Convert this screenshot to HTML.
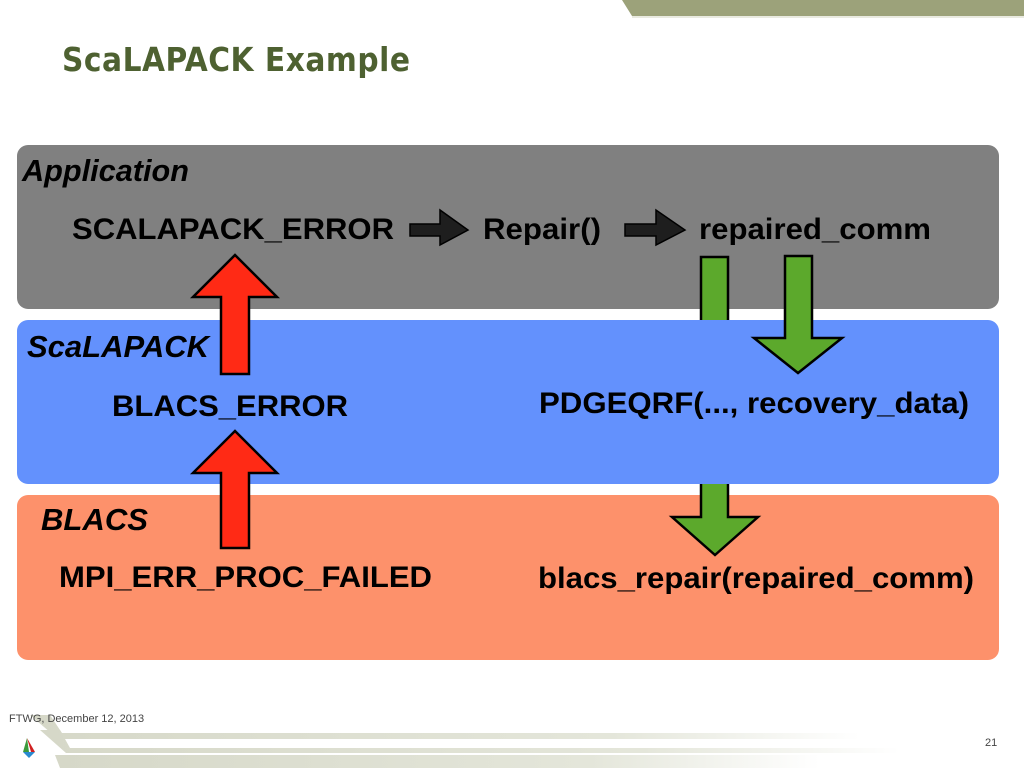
<!DOCTYPE html>
<html><head><meta charset="utf-8"><style>
html,body{margin:0;padding:0;background:#fff;}
svg{display:block;}
text{font-family:"Liberation Sans",Arial,sans-serif;font-weight:bold;fill:#000;}
</style></head><body>
<svg width="1024" height="768" viewBox="0 0 1024 768" xmlns="http://www.w3.org/2000/svg">
<defs>
<linearGradient id="fg" x1="0" x2="1"><stop offset="0" stop-color="#d6d8c8"/><stop offset="0.7" stop-color="#e4e6da"/><stop offset="1" stop-color="#ffffff"/></linearGradient>
</defs>
<polygon points="622,0 1024,0 1024,16 632,16" fill="#9ca27a"/>
<line x1="632" y1="17" x2="1024" y2="17" stroke="#e2e4d6" stroke-width="1.5"/>
<text x="62" y="71" font-size="33" fill="#4e6131" style="font-family:'DejaVu Sans Condensed','Liberation Sans Narrow','Liberation Sans',sans-serif;fill:#4e6131" textLength="348">ScaLAPACK Example</text>

<rect x="17" y="145" width="982" height="164" rx="11" fill="#808080"/>
<rect x="17" y="495" width="982" height="165" rx="11" fill="#fd916b"/>
<polygon points="701,257 728,257 728,517 758,517 715,555 672,517 701,517" fill="#5ca92c" stroke="#000" stroke-width="2.5"/>
<rect x="17" y="320" width="982" height="164" rx="11" fill="#6391fd"/>
<polygon points="785,256 812,256 812,338 842,338 798,373 754,338 785,338" fill="#5ca92c" stroke="#000" stroke-width="2.5"/>
<polygon points="235,255 277,297 249,297 249,374 221,374 221,297 193,297" fill="#ff2a15" stroke="#000" stroke-width="2.5"/>
<polygon points="235,431 277,473 249,473 249,548 221,548 221,473 193,473" fill="#ff2a15" stroke="#000" stroke-width="2.5"/>
<polygon points="410,224 440,224 440,210 468,230 440,245 440,236 410,236" fill="#1e1e1e" stroke="#000" stroke-width="1.5"/>
<polygon points="625,224 656,224 656,210 685,230 656,245 656,236 625,236" fill="#1e1e1e" stroke="#000" stroke-width="1.5"/>

<text x="22" y="181" font-size="31" font-style="italic" textLength="167" lengthAdjust="spacingAndGlyphs">Application</text>
<text x="27" y="357" font-size="31" font-style="italic" textLength="182" lengthAdjust="spacingAndGlyphs">ScaLAPACK</text>
<text x="41" y="530" font-size="31" font-style="italic" textLength="107" lengthAdjust="spacingAndGlyphs">BLACS</text>
<text x="72" y="239" font-size="30" textLength="322" lengthAdjust="spacingAndGlyphs">SCALAPACK_ERROR</text>
<text x="483" y="239" font-size="30" textLength="118" lengthAdjust="spacingAndGlyphs">Repair()</text>
<text x="699" y="239" font-size="30" textLength="232" lengthAdjust="spacingAndGlyphs">repaired_comm</text>
<text x="112" y="416" font-size="30" textLength="236" lengthAdjust="spacingAndGlyphs">BLACS_ERROR</text>
<text x="539" y="413" font-size="30" textLength="430" lengthAdjust="spacingAndGlyphs">PDGEQRF(..., recovery_data)</text>
<text x="59" y="587" font-size="30" textLength="373" lengthAdjust="spacingAndGlyphs">MPI_ERR_PROC_FAILED</text>
<text x="538" y="588" font-size="30" textLength="436" lengthAdjust="spacingAndGlyphs">blacs_repair(repaired_comm)</text>

<polygon points="30,715 50,715 62,733 860,733 860,739 58,739" fill="url(#fg)"/>
<polygon points="40,730 60,730 70,748 900,748 900,753 66,753" fill="url(#fg)"/>
<polygon points="55,755 820,755 820,768 60,768" fill="url(#fg)"/>
<text x="9" y="722" font-size="11" style="font-weight:normal;fill:#444">FTWG, December 12, 2013</text>
<text x="985" y="746" font-size="11" style="font-weight:normal;fill:#444">21</text>
<polygon points="27,738 23,752 29,752" fill="#3a9a3a"/>
<polygon points="27,738 31,752 35,752" fill="#d02020"/>
<polygon points="23,752 35,752 29,758" fill="#2a8ad0"/>
</svg>
</body></html>
